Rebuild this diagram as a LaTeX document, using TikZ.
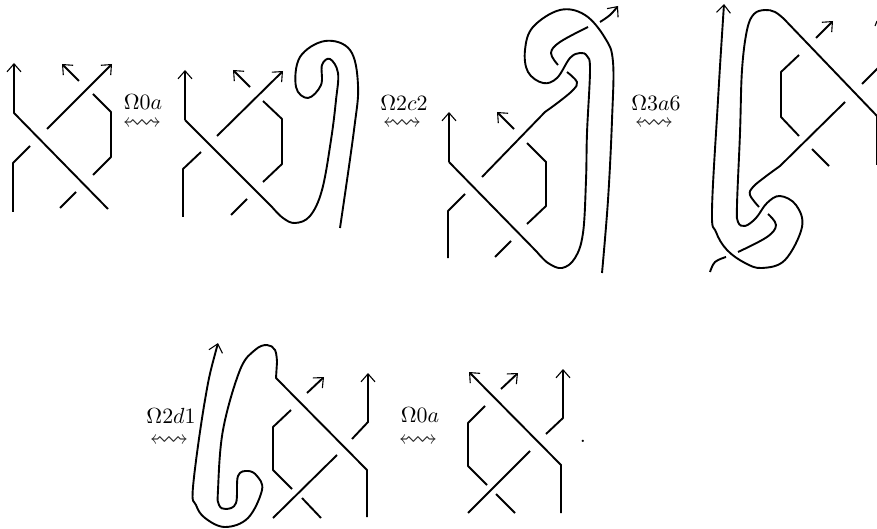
\documentclass[tikz,border=0pt]{standalone}
\usepackage{amssymb}
\usetikzlibrary{arrows.meta}
\tikzset{
  strand/.style={line width=0.95pt,line join=round},
  arr/.style={strand,-{Straight Barb[length=4pt,width=7pt,line width=0.55pt]}},
  lab/.style={inner sep=0pt,font=\fontsize{10.5}{12}\selectfont},
  squig/.style={inner sep=0pt,font=\fontsize{14}{14}\selectfont,yscale=1,color=black!85},
  smo/.style={smooth,tension=0.62}
}
\newcommand{\sq}{$\leftrightsquigarrow$}
\begin{document}
\begin{tikzpicture}[x=0.5pt,y=-0.5pt]
\useasboundingbox (0,0) rectangle (877,529);
% panel 1
\draw[strand] (13,212)--(13,163)--(30,146);
\draw[arr] (108,209)--(14,113)--(14,63);
\draw[arr] (47,129)--(112,64);
\draw[arr] (79,81)--(62,64);
\draw[strand] (93,94)--(111,112)--(111,157)--(93,175);
\draw[strand] (76,192)--(60,208);
\node[lab] (l1) at (143,102) {$\Omega0a$};
\node[squig] (s1) at (142,124) {\sq};
% panel 2
\draw[strand] (183,217)--(183,169)--(201,152);
\draw[arr] (185,120)--(185,70);
\draw[strand] (185,120)--(272,207) -- plot[smo] coordinates {(272,207)(283,218)(295,223)(310,216)(322,190)(331,140)(336,100)(338,73)(330,59)(322,65)(321,85)(308,98)(296,87)(300,57)(325,41)(350,50)(358,85)(354,130)(340,228)};
\draw[arr] (217,136)--(283,71);
\draw[arr] (250,87)--(233,70);
\draw[strand] (263,101)--(282,119)--(282,164)--(263,182);
\draw[strand] (247,199)--(231,215);
\node[lab] (l2) at (404,103) {$\Omega2c2$};
\node[squig] (s2) at (402,124) {\sq};
% panel 3
\draw[strand] (448,258)--(448,211)--(465,194);
\draw[arr] (449,162)--(449,112);
\draw[strand] (449,162)--(537,252) -- plot[smo] coordinates {(537,252)(548,263)(562,268)(575,258)(583,233)(586,180)(587,133)(590,70)(587,56)(580,53)(570,58)(557,78)(543,83)(528,72)(525,50)(533,27)(560,10)(585,15)(605,38)(613,62)(612,120)(608,200)(602,273)};
\draw[strand] (482,177)--(545,112) -- plot[smo] coordinates {(545,112)(560,101)(573,90)(577,82)(567,72)};
\draw[arr] (514,129)--(497,112);
\draw[strand] (527,143)--(546,162)--(546,206)--(527,224);
\draw[strand] (511,241)--(495,257);
\draw[strand] plot[smo] coordinates {(558,65)(551,53)(560,42)(588,27)};
\draw[arr] plot[smo] coordinates {(600,22)(610,15)(618,6)};
\node[lab] (l3) at (656,103) {$\Omega3a6$};
\node[squig] (s3) at (654,124) {\sq};
% panel 4
\draw[{Straight Barb[length=4pt,width=7pt,line width=0.55pt]}-,strand] plot[smo] coordinates {(724,4)(718,100)(712,210)(716,232)(727,250)(745,263)(762,268)(785,260)(802,227)(796,205)(780,196)(767,203)(756,218)(745,226)(738,222)(737,205)(740,133)(742,70)(747,30)(754,14)(765,10)(775,12)(784,19)} -- (877,116)--(877,165);
\draw[arr] (816,38)--(833,21);
\draw[strand] (799,55)--(781,72)--(781,117)--(799,136);
\draw[strand] (845,102)--(780,166) -- plot[smo] coordinates {(780,166)(765,177)(753,187)(750,195)(759,207)};
\draw[strand] (812,149)--(829,166);
\draw[strand] (862,84)--(878,68);
\draw[strand,line width=0.55pt] (875,26)--(877,21);
\draw[strand] plot[smo] coordinates {(768,214)(776,225)(767,237)(738,252)};
\draw[strand] plot[smo] coordinates {(726,257)(715,262)(710,272)};
\node[lab] (l4) at (171,416) {$\Omega2d1$};
\node[squig] (s4) at (169,441) {\sq};
% panel 5
\draw[{Straight Barb[length=4pt,width=7pt,line width=0.55pt]}-,strand] plot[smo] coordinates {(218,343)(205,400)(193,487)(196,505)(205,518)(225,527)(248,518)(262,490)(257,476)(248,471)(238,476)(236,503)(226,509)(219,505)(218,490)(223,430)(240,370)(255,350)(267,345)(275,350)(277,362)} -- (276,378)--(367,470)--(367,517);
\draw[arr] (307,393)--(324,377);
\draw[strand] (291,410)--(273,427)--(273,470)--(292,489);
\draw[strand] (337,455)--(273,518);
\draw[strand] (302,498)--(321,518);
\draw[arr] (352,439)--(368,422)--(368,373);
\node[lab] (l5) at (420,415) {$\Omega0a$};
\node[squig] (s5) at (418,441) {\sq};
% panel 6
\draw[arr] (561,513)--(561,465)--(469,372);
\draw[arr] (501,389)--(518,373);
\draw[strand] (485,406)--(468,423)--(468,466)--(487,485);
\draw[strand] (530,451)--(468,513);
\draw[strand] (496,494)--(515,513);
\draw[arr] (546,434)--(563,418)--(563,369);
\node[lab] (dot) at (583,441) {$.$};
\end{tikzpicture}
\end{document}
